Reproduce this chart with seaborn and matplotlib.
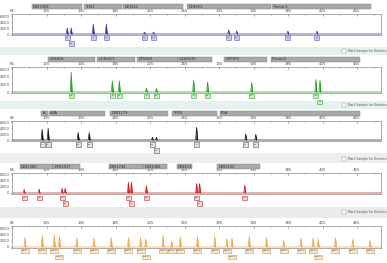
import matplotlib
matplotlib.use("Agg")
import matplotlib.pyplot as plt
import matplotlib.transforms as mtransforms
from matplotlib.patches import Rectangle
import pandas as pd
import seaborn as sns

# ------------------------------------------------------------------ data
x_ticks = [65, 105, 145, 185, 225, 265, 305, 345, 385, 425, 465]
y_ticks = [0, 2000, 4000, 6000]
y_tick_labels = ["0", "2000", "4000", "6000"]

blue_markers = ["D3S1358", "TH01", "D21S11", "D18S51", "Penta E"]
blue_marker_start = [88, 148, 194, 268, 367]
blue_marker_end = [146, 193, 263, 365, 481]
blue_peak_bp = [129.0, 133.6, 159.2, 174.3, 218.5, 229.0, 316.2, 325.5, 384.8, 418.5]
blue_peak_rfu = [2000, 2000, 3300, 3300, 650, 650, 1300, 1000, 1000, 1000]
blue_alleles = ["15", "16", "7", "9.3", "29", "31.2", "14", "16", "12", "19"]

green_markers = ["D5S818", "D13S317", "D7S820", "D16S539", "CSF1PO", "Penta D"]
green_marker_start = [107, 164, 210, 258, 311, 365]
green_marker_end = [161, 208, 257, 297, 361, 468]
green_peak_bp = [133.6, 181.3, 189.4, 220.8, 232.4, 275.5, 291.7, 342.9, 417.3, 422.0]
green_peak_rfu = [5200, 2900, 2900, 1000, 1000, 3100, 2600, 2500, 3300, 3100]
green_alleles = ["11", "9", "11", "8", "11", "9", "13", "12", "12", "13"]

black_markers = ["AMEL", "vWA", "D8S1179", "TPOX", "FGA"]
black_marker_start = [99, 108, 179, 250, 306]
black_marker_end = [107, 173, 246, 303, 468]
black_peak_bp = [99.9, 106.9, 141.7, 154.5, 227.8, 232.4, 279.0, 336.0, 347.6]
black_peak_rfu = [3600, 3900, 2550, 2450, 900, 900, 4200, 2000, 1900]
black_alleles = ["X", "Y", "16", "19", "12", "13", "8", "22", "25"]

red_markers = ["D2S1360", "D7S1517", "D3S1744", "D4S2366", "D6S474", "D8S1132"]
red_marker_start = [74, 113, 177, 217, 256, 303]
red_marker_end = [112, 144, 217, 245, 274, 352]
red_peak_bp = [79.0, 96.4, 123.1, 126.6, 199.9, 203.4, 220.8, 279.0, 282.4, 334.8]
red_peak_rfu = [1150, 1200, 1500, 1500, 3400, 3400, 2300, 3000, 3000, 2500]
red_alleles = ["22", "25", "17", "18", "11", "12", "14", "15", "16", "24"]

ils_peak_bp = [80, 100, 114, 120, 140, 160, 180, 200, 214, 220, 240, 250, 260,
               280, 300, 314, 320, 340, 360, 380, 400, 414, 420, 440, 460, 480]
ils_peak_rfu = [2950, 3700, 3900, 3370, 2950, 2840, 2950, 2950, 2950, 2630, 3700, 1900, 3370,
                3370, 3370, 2630, 2840, 3470, 2950, 2100, 2840, 2950, 2630, 2950, 2400, 2100]
ils_labels = [f"{v}.0" for v in ils_peak_bp]

checkbox_text = "Mark Sample for Deletion"

# ------------------------------------------------------------------ style / layout
W, H = 387, 263
sns.set_theme(style="white")
plt.rcParams["font.family"] = ["DejaVu Sans"]

fig = plt.figure(figsize=(W / 100, H / 100), dpi=100)
fig.patch.set_facecolor("white")
pix = mtransforms.Affine2D().scale(1.0 / W, -1.0 / H).translate(0, 1) + fig.transFigure

AX_L, AX_R = 11.5, 381.0
XLIM = (64.4, 492.8)

panels = [
    dict(markers=blue_markers, ms=blue_marker_start, me=blue_marker_end,
         bp=blue_peak_bp, rfu=blue_peak_rfu, lab=blue_alleles,
         color="#2e2e92", face="#cbcbf2", edge="#5a5ab8",
         top=14, bottom=35, zero=34, six=16, mk=(4, 9), rows=(35, 41), bw=5),
    dict(markers=green_markers, ms=green_marker_start, me=green_marker_end,
         bp=green_peak_bp, rfu=green_peak_rfu, lab=green_alleles,
         color="#1f9e1f", face="#cdeec6", edge="#3a9f3a",
         top=67, bottom=93, zero=92, six=69, mk=(57, 62), rows=(93.5, 99.5), bw=5),
    dict(markers=black_markers, ms=black_marker_start, me=black_marker_end,
         bp=black_peak_bp, rfu=black_peak_rfu, lab=black_alleles,
         color="#111111", face="#e2e2e2", edge="#555555",
         top=121, bottom=141, zero=140, six=122, mk=(111, 116), rows=(142, 148), bw=5),
    dict(markers=red_markers, ms=red_marker_start, me=red_marker_end,
         bp=red_peak_bp, rfu=red_peak_rfu, lab=red_alleles,
         color="#cc1414", face="#f7d3d3", edge="#c03030",
         top=173, bottom=194, zero=193, six=174, mk=(164, 169), rows=(195.5, 201), bw=5),
    dict(markers=None, ms=None, me=None,
         bp=ils_peak_bp, rfu=ils_peak_rfu, lab=ils_labels,
         color="#f0a442", face="#fbe8c8", edge="#d29444",
         top=226, bottom=248, zero=247, six=228, mk=None, rows=(248.5, 254.5), bw=8),
]

headers = [(47, 55, "#e3f1ef", 51), (101, 109, "#e3f1ef", 105),
           (153, 163, "#eeeeee", 159), (207, 218, "#ebebeb", 212)]

# header bands with the "Mark Sample for Deletion" checkbox
for (y0, y1, col, yc) in headers:
    fig.add_artist(Rectangle((0, y0), W, y1 - y0, transform=pix, facecolor=col,
                             edgecolor="none", zorder=0))
    fig.add_artist(Rectangle((342, yc - 2), 4, 4, transform=pix, facecolor="white",
                             edgecolor="#8a8a8a", lw=0.3, zorder=1))
    fig.text(347.5 / W, 1 - yc / H, checkbox_text, fontsize=2.2, color="#555555",
             va="center", ha="left")

px_per_bp = (AX_R - AX_L) / (XLIM[1] - XLIM[0])
hw = 1.1  # half width of a peak, bp

for p in panels:
    u = 6000.0 / (p["zero"] - p["six"])
    ylim = (-(p["bottom"] - p["zero"]) * u, (p["zero"] - p["top"]) * u)
    ax = fig.add_axes([AX_L / W, 1 - p["bottom"] / H, (AX_R - AX_L) / W,
                       (p["bottom"] - p["top"]) / H])
    ax.set_facecolor("white")

    # electropherogram trace (peaks on a flat baseline)
    xs, ys = [XLIM[0]], [0.0]
    for b, h in sorted(zip(p["bp"], p["rfu"])):
        xs += [b - hw, b, b + hw]
        ys += [0.0, h, 0.0]
    xs.append(XLIM[1]); ys.append(0.0)
    trace = pd.DataFrame({"bp": xs, "rfu": ys})
    ax.fill_between(trace["bp"], 0, trace["rfu"], color=p["color"], lw=0)
    sns.lineplot(data=trace, x="bp", y="rfu", sort=False, estimator=None,
                 color=p["color"], lw=0.5, ax=ax)

    ax.set_xlim(*XLIM)
    ax.set_ylim(*ylim)
    ax.set_xlabel(""); ax.set_ylabel("")
    ax.set_xticks(x_ticks)
    ax.set_xticklabels([str(t) for t in x_ticks])
    ax.set_xticks([(a + b) / 2 for a, b in zip(x_ticks[:-1], x_ticks[1:])] + [x_ticks[-1] + 20],
                  minor=True)
    ax.set_yticks(y_ticks)
    ax.set_yticklabels(y_tick_labels)
    ax.tick_params(axis="x", which="both", top=True, bottom=False, labeltop=True,
                   labelbottom=False, direction="in", width=0.4, colors="#555555",
                   labelsize=2.9, pad=0.6)
    ax.tick_params(axis="x", which="major", length=1.6)
    ax.tick_params(axis="x", which="minor", length=1.0)
    ax.tick_params(axis="y", left=True, direction="out", length=0.8, width=0.4,
                   colors="#555555", labelsize=2.9, pad=0.6)
    for s in ax.spines.values():
        s.set_color("#8c8c8c")
        s.set_linewidth(0.5)

    bl = mtransforms.blended_transform_factory(ax.transData, pix)

    # marker (locus) header boxes
    if p["markers"]:
        y0, y1 = p["mk"]
        for name, a, b in zip(p["markers"], p["ms"], p["me"]):
            r = Rectangle((a, y0), b - a, y1 - y0, transform=bl, facecolor="#a9a9a9",
                          edgecolor="#7c7c7c", lw=0.3, clip_on=False, zorder=3)
            ax.add_patch(r)
            box_px = (b - a) * px_per_bp
            shown = name if len(name) * 1.7 + 2 <= box_px else name[0] + ".."
            ax.text(a + 1.2 / px_per_bp, (y0 + y1) / 2, shown, transform=bl,
                    fontsize=2.6, color="#2a2a2a", va="center", ha="left", zorder=4)

    # allele / size label boxes under the peaks
    bw_bp = p["bw"] / px_per_bp
    last = -1e9
    for b, lab in sorted(zip(p["bp"], p["lab"])):
        if (b - last) * px_per_bp < p["bw"] - 0.2:
            ytop = p["rows"][1]
        else:
            ytop = p["rows"][0]
            last = b
        ax.add_patch(Rectangle((b - bw_bp / 2, ytop), bw_bp, 4.5, transform=bl,
                               facecolor=p["face"], edgecolor=p["edge"], lw=0.4,
                               clip_on=False, zorder=3))
        ax.text(b, ytop + 2.25, lab, transform=bl, fontsize=1.7, color="#333333",
                ha="center", va="center", clip_on=False, zorder=4)

fig.savefig("out.png", dpi=100, facecolor="white")
